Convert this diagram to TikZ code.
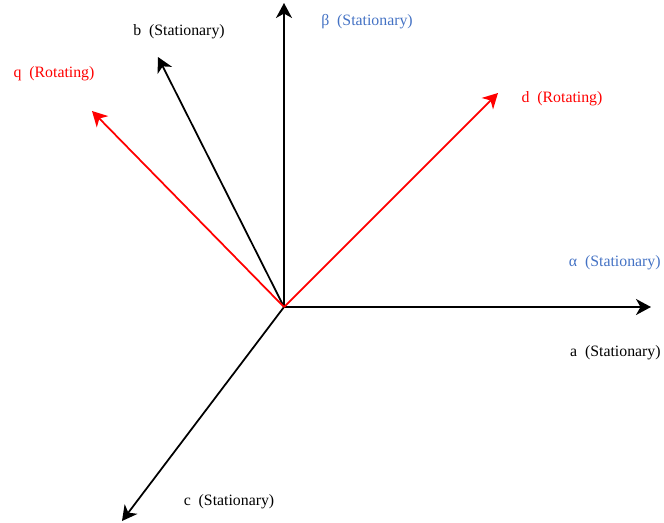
\documentclass[tikz,border=0pt]{standalone}
\usepackage{fontspec}
\setmainfont{Liberation Serif}
\usetikzlibrary{arrows.meta}
\definecolor{refblue}{RGB}{68,114,196}
\tikzset{
  axis/.style={-{Stealth[length=3mm, width=3.2mm, inset=0.9mm]}, line width=1pt},
  lbl/.style={font=\fontsize{9}{11}\selectfont, inner sep=0pt},
}

\begin{document}
\begin{tikzpicture}[x=0.02cm, y=-0.02cm]
  \useasboundingbox (0,0) rectangle (664,522);

  % origin and axis tips
  \coordinate (o) at (284,307);
  \coordinate (atip) at (651,307);
  \coordinate (betatip) at (284,3);
  \coordinate (btip) at (158,57);
  \coordinate (ctip) at (122,521);
  \coordinate (dtip) at (498,93);
  \coordinate (qtip) at (92,111);

  % labels
  \node[lbl, anchor=east] (alab) at (661,353) {a\enspace(Stationary)};
  \node[lbl] (blab) at (179,32) {b\enspace(Stationary)};
  \node[lbl] (clab) at (229,502) {c\enspace(Stationary)};
  \node[lbl, anchor=east, text=refblue] (alphalab) at (661,263) {α\enspace(Stationary)};
  \node[lbl, text=refblue] (betalab) at (367,22) {β\enspace(Stationary)};
  \node[lbl, text=red] (dlab) at (562,99) {d\enspace(Rotating)};
  \node[lbl, text=red] (qlab) at (54,74) {q\enspace(Rotating)};

  % stationary axes
  \draw[axis] (o) -- (atip);
  \draw[axis] (o) -- (betatip);
  \draw[axis] (o) -- (btip);
  \draw[axis] (o) -- (ctip);
  % rotating axes
  \draw[axis, red] (o) -- (dtip);
  \draw[axis, red] (o) -- (qtip);
\end{tikzpicture}
\end{document}
